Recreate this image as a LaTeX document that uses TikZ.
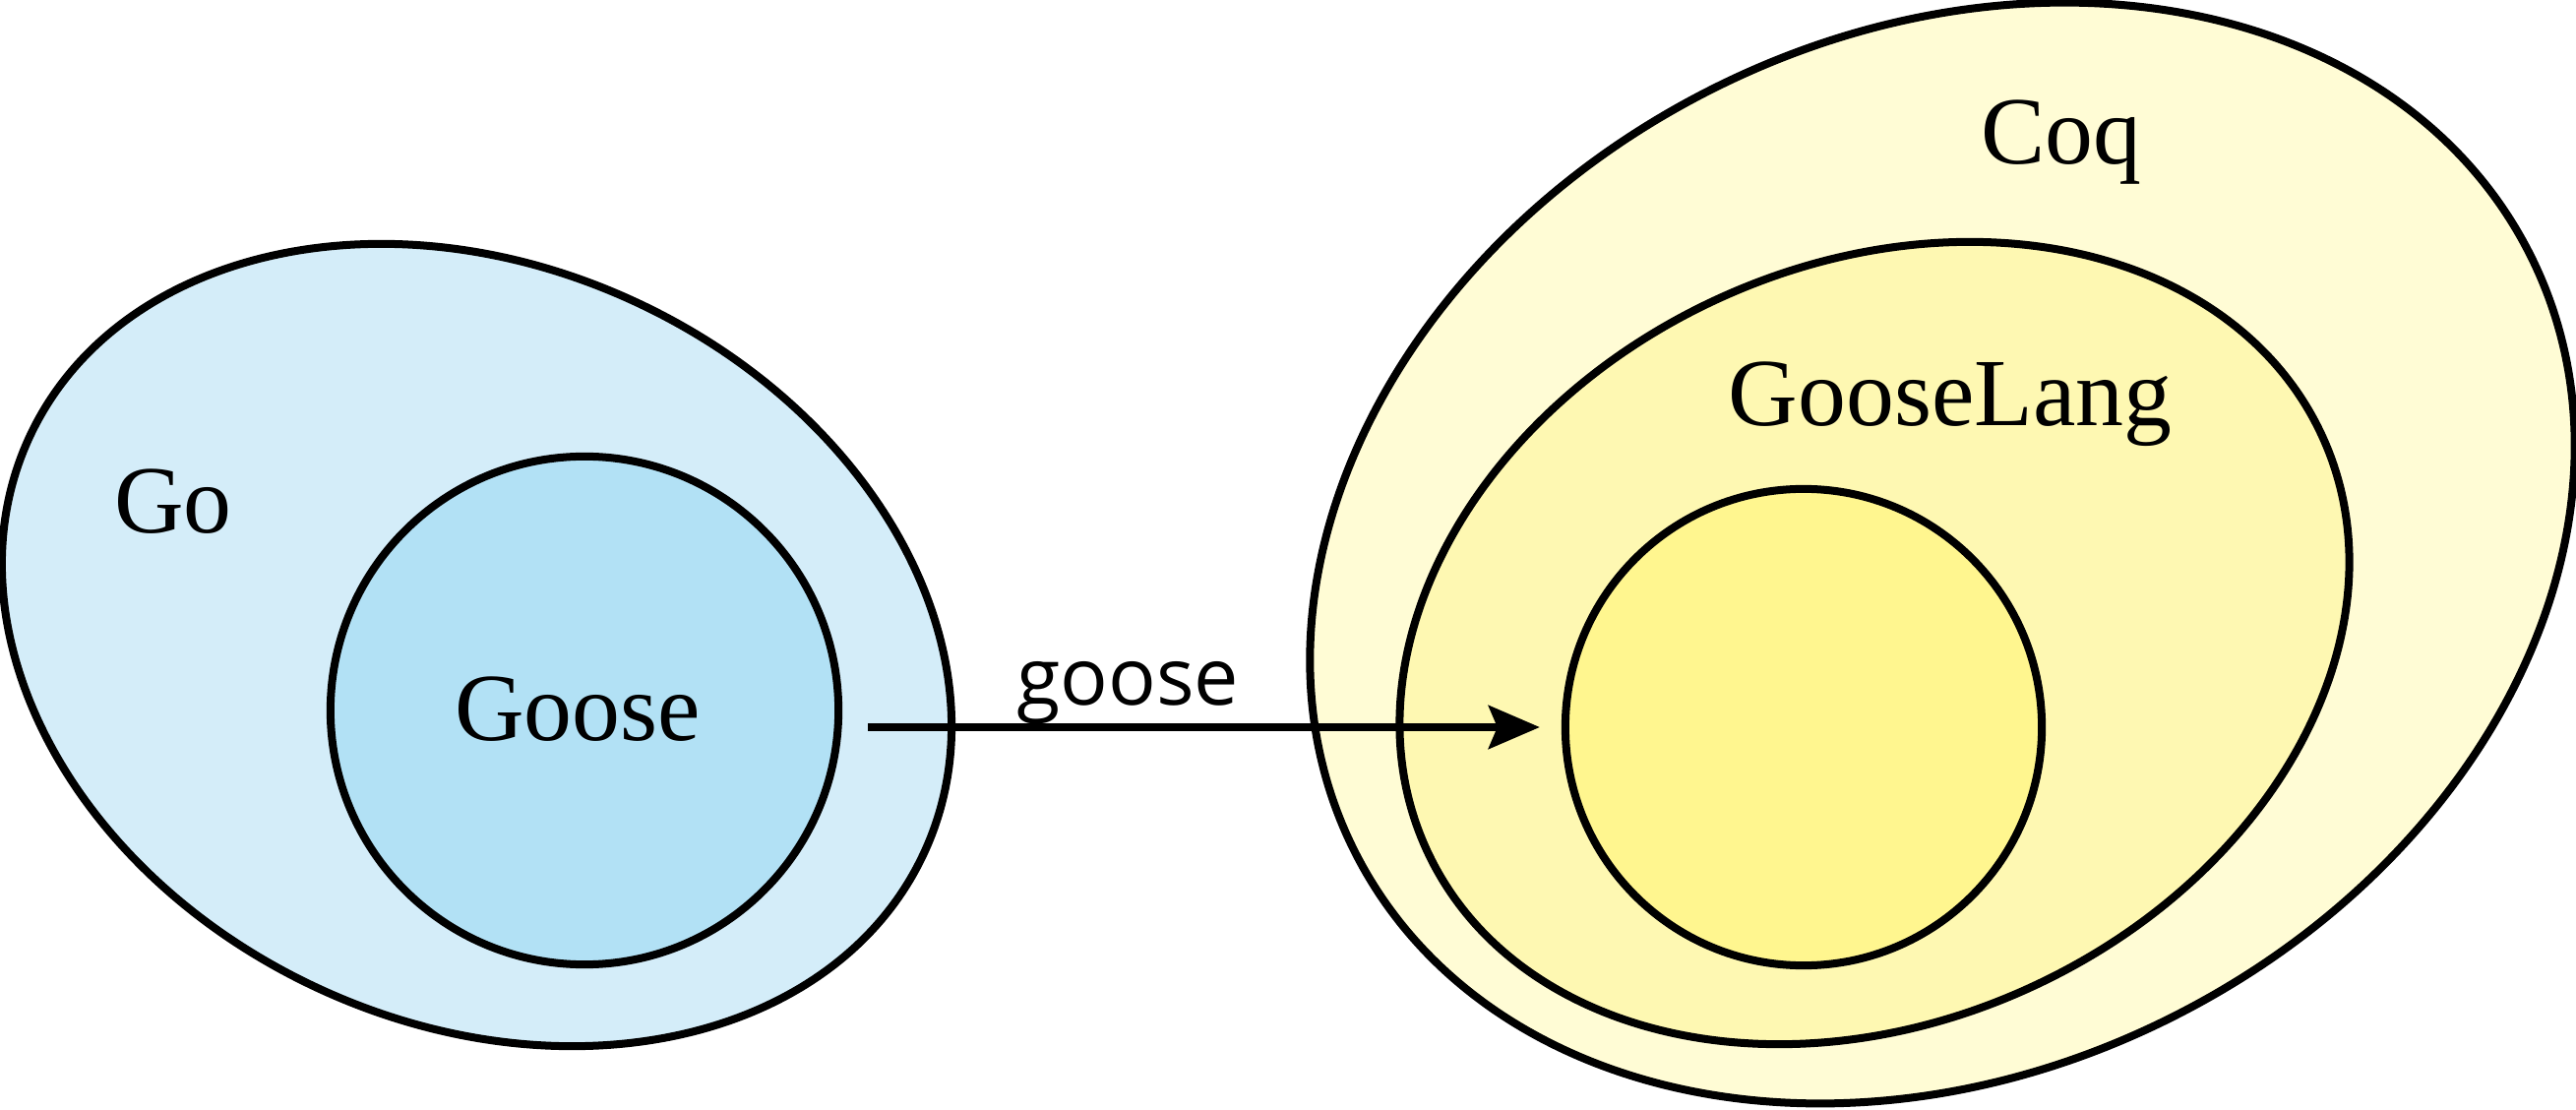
\documentclass[tikz,border=0pt]{standalone}
\usepackage{fontspec}
\setmainfont{Liberation Serif}
\newfontfamily\maplabelfont{Open Sans}
\usetikzlibrary{shapes.geometric, arrows.meta}
\definecolor{goouter}{RGB}{212,237,249}
\definecolor{goinner}{RGB}{178,225,245}
\definecolor{coqfill}{RGB}{255,252,213}
\definecolor{langfill}{RGB}{254,248,178}
\definecolor{innerfill}{RGB}{255,246,143}
\begin{document}
\begin{tikzpicture}[x=0.01cm, y=-0.01cm,
  region/.style={draw=black, line width=0.08cm, outer sep=0pt, inner sep=0pt},
  ell/.style={region, ellipse},
  circ/.style={region, circle},
  setfont/.style={font=\fontsize{27.8pt}{33pt}\selectfont},
  setlabel/.style={setfont, anchor=base, inner sep=0pt},
  maplabel/.style={font=\maplabelfont\fontsize{23pt}{28pt}\selectfont, anchor=base, inner sep=0pt},
  maparrow/.style={line width=0.075cm, -{Stealth[length=0.52cm, width=0.44cm, inset=0.09cm]}}
]
\useasboundingbox (0,0) rectangle (2618,1128);
% left side
\node[ell, fill=goouter, minimum width=10.02cm, minimum height=7.68cm, rotate=-25] (go) at (484.5,655.5) {};
\node[circ, fill=goinner, minimum size=5.16cm] (goose) at (594,722) {};
% right side
\node[ell, fill=coqfill, minimum width=13.39cm, minimum height=10.52cm, rotate=27.2] (coq) at (1974,562) {};
\node[ell, fill=langfill, minimum width=10.02cm, minimum height=7.68cm, rotate=25] (lang) at (1905,653.5) {};
\node[circ, fill=innerfill, minimum size=4.84cm] (inner) at (1833,739) {};
% labels
\node[setlabel] (golbl) at (176,542) {Go};
\node[setlabel] (gooselbl) at (587,753) {Goose};
\node[setlabel] (coqlbl) at (2095,167) {Coq};
\node[setlabel] (langlbl) at (1982,433) {GooseLang};
\node[maplabel] (maplbl) at (1146,717) {goose};
% arrow
\draw[maparrow, shorten <=0.30cm, shorten >=0.26cm] (goose.east |- inner.west) -- (inner.west);
\end{tikzpicture}
\end{document}
